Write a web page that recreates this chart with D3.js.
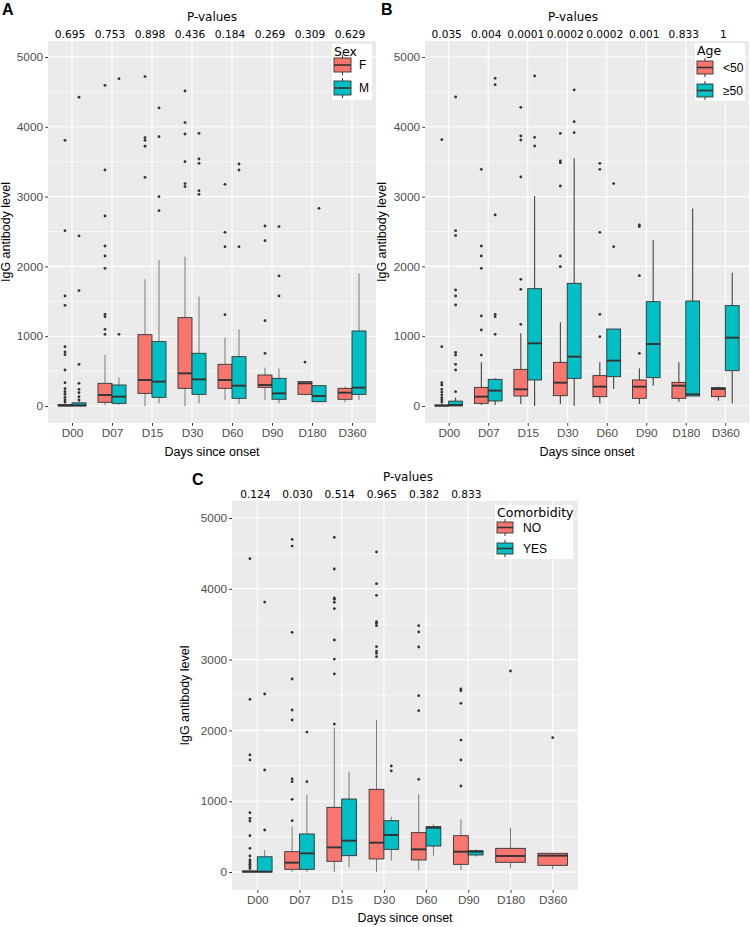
<!DOCTYPE html>
<html>
<head>
<meta charset="utf-8">
<script src="https://cdn.jsdelivr.net/npm/d3@7"></script>
<style>
  html, body { margin: 0; padding: 0; background: #fff; }
  svg { display: block; }
</style>
</head>
<body>
<svg id="chart" width="750" height="927"></svg>
<script>
// ---------------- DATA ----------------
const days = ["D00", "D07", "D15", "D30", "D60", "D90", "D180", "D360"];
const yTicks = [0, 1000, 2000, 3000, 4000, 5000];
const yMinor = [500, 1500, 2500, 3500, 4500];

const pvalsA = ["0.695", "0.753", "0.898", "0.436", "0.184", "0.269", "0.309", "0.629"];
const pvalsB = ["0.035", "0.004", "0.0001", "0.0002", "0.0002", "0.001", "0.833", "1"];
const pvalsC = ["0.124", "0.030", "0.514", "0.965", "0.382", "0.833"];

const groupsA = ["F", "M"];
const groupsB = ["<50", "≥50"];
const groupsC = ["NO", "YES"];

// box stats per day: [lower whisker, Q1, median, Q3, upper whisker]
const statsA_F = [[0, 0, 8, 20, 40], [10, 53, 158, 325, 731], [0, 181, 373, 1022, 1815], [0, 253, 468, 1266, 2140],
  [86, 253, 373, 597, 984], [86, 267, 301, 444, 549], [150, 167, 325, 349, 349], [53, 96, 191, 253, 277]];
const outA_F = [[57, 86, 124, 167, 205, 248, 334, 516, 735, 774, 850, 1442, 1576, 2512, 3806],
  [1027, 1098, 1280, 1313, 1972, 2149, 2292, 2722, 3381, 4594], [3276, 3721, 3806, 3845, 4719],
  [3143, 3186, 3501, 3897, 4060, 4513], [1309, 2283, 2488, 3176], [755, 1223, 2369, 2579], [630], []];
const statsA_M = [[0, 0, 10, 45, 100], [14, 38, 134, 301, 410], [38, 124, 349, 922, 2092], [38, 167, 382, 755, 1567],
  [29, 110, 291, 707, 1098], [38, 96, 181, 396, 540], [55, 62, 143, 291, 291], [86, 167, 263, 1075, 1901]];
const outA_M = [[86, 134, 191, 239, 325, 597, 1653, 2436, 4423], [1027, 4690], [2799, 2999, 3859, 4270],
  [3033, 3085, 3477, 3539, 3907], [2283, 3381, 3467], [1576, 1863, 2570], [2832], []];

const statsB_L = [[0, 0, 5, 15, 40], [14, 38, 134, 267, 626], [29, 143, 239, 525, 1041], [29, 148, 334, 626, 1199],
  [38, 134, 277, 435, 626], [29, 110, 277, 373, 540], [62, 110, 291, 339, 626], [76, 134, 244, 263, 277]];
const outB_L = [[60, 90, 120, 160, 200, 239, 301, 334, 850, 3816], [730, 1089, 1290, 1972, 2149, 2292, 3391],
  [1170, 1672, 1815, 3281, 3811, 3869, 4279], [1996, 2149, 3152, 3486, 3510, 3907],
  [993, 1313, 2488, 3391, 3477], [755, 1867, 2570, 2593], [], []];
const statsB_H = [[0, 0, 15, 70, 120], [14, 72, 220, 382, 396], [0, 373, 898, 1681, 3009], [0, 396, 707, 1758, 3549],
  [244, 420, 650, 1103, 1103], [291, 406, 888, 1495, 2378], [143, 143, 167, 1504, 2830], [38, 506, 979, 1438, 1910]];
const outB_H = [[205, 516, 597, 731, 769, 1447, 1576, 1662, 2441, 2512, 4427], [1027, 1280, 1313, 2737, 4604, 4695],
  [3725, 3849, 4728], [3916, 4074, 4528], [2283, 3186], [], [], []];

const statsC_N = [[0, 0, 5, 15, 35], [0, 38, 132, 287, 640], [0, 151, 348, 913, 2039], [0, 184, 414, 1168, 2147],
  [24, 170, 320, 556, 1097], [24, 108, 287, 513, 744], [52, 137, 226, 334, 626], [38, 94, 231, 264, 270]];
const outC_N = [[50, 80, 110, 140, 170, 226, 334, 513, 720, 758, 838, 1582, 1653, 2439, 4426],
  [725, 1026, 1276, 1314, 2147, 2288, 2726, 3385, 4604, 4698],
  [2090, 2797, 3008, 3277, 3719, 3809, 3851, 3870, 4280, 4727],
  [3041, 3088, 3120, 3183, 3479, 3512, 3535, 3908, 4072, 4520],
  [1309, 2279, 2491, 3178, 3390, 3479], [1215, 1582, 1864, 2382, 2561, 2585], [2839], [1897]];
const statsC_Y = [[0, 0, 5, 215, 310], [0, 38, 264, 537, 1088], [66, 231, 443, 1031, 1417], [160, 320, 523, 725, 782],
  [231, 367, 626, 640, 673], [217, 240, 287, 301, 320], null, null];
const outC_Y = [[593, 1441, 2514, 3813], [1276, 1977], [], [1427, 1497], [], [], [], []];

// ---------------- DRAW ----------------
const colors = ["#F8766D", "#00BFC4"];
const svg = d3.select("#chart");
const SANS = "'Liberation Sans', Arial, sans-serif";
const DEJA = "'DejaVu Sans', Verdana, sans-serif";

function drawPanel(cfg) {
  const g = svg.append("g");
  const x = d3.scalePoint().domain(days).range([cfg.left, cfg.right]).padding(0.6);
  const step = x.step();
  const y = d3.scaleLinear().domain([0, 5000]).range([cfg.y0, cfg.y5000]);

  g.append("rect").attr("x", cfg.left).attr("y", cfg.top)
    .attr("width", cfg.right - cfg.left).attr("height", cfg.bottom - cfg.top).attr("fill", "#EBEBEB");

  g.selectAll(".minor").data(yMinor).join("line")
    .attr("x1", cfg.left).attr("x2", cfg.right)
    .attr("y1", d => y(d)).attr("y2", d => y(d))
    .attr("stroke", "#fff").attr("stroke-width", 0.55);
  g.selectAll(".major").data(yTicks).join("line")
    .attr("x1", cfg.left).attr("x2", cfg.right)
    .attr("y1", d => y(d)).attr("y2", d => y(d))
    .attr("stroke", "#fff").attr("stroke-width", 1.1);
  g.selectAll(".vmajor").data(days).join("line")
    .attr("x1", d => x(d)).attr("x2", d => x(d))
    .attr("y1", cfg.top).attr("y2", cfg.bottom)
    .attr("stroke", "#fff").attr("stroke-width", 1.1);

  // boxes
  days.forEach((day, i) => {
    const present = cfg.stats.map(s => s[i] != null);
    const n = present.filter(Boolean).length;
    let k = 0;
    cfg.stats.forEach((s, gi) => {
      const st = s[i];
      if (!st) return;
      let cx, w;
      if (n === 2) { cx = x(day) + (k === 0 ? -0.175 : 0.175) * step; w = 0.35 * step; }
      else { cx = x(day); w = 0.7 * step; }
      k++;
      const [lo, q1, md, q3, hi] = st;
      g.append("line").attr("x1", cx).attr("x2", cx).attr("y1", y(lo)).attr("y2", y(q1))
        .attr("stroke", cfg.whisker).attr("stroke-width", 1);
      g.append("line").attr("x1", cx).attr("x2", cx).attr("y1", y(q3)).attr("y2", y(hi))
        .attr("stroke", cfg.whisker).attr("stroke-width", 1);
      g.append("rect").attr("x", cx - w / 2).attr("y", y(q3))
        .attr("width", w).attr("height", Math.max(0.5, y(q1) - y(q3)))
        .attr("fill", colors[gi]).attr("stroke", "#333").attr("stroke-width", 0.9);
      g.append("line").attr("x1", cx - w / 2).attr("x2", cx + w / 2).attr("y1", y(md)).attr("y2", y(md))
        .attr("stroke", "#333").attr("stroke-width", 1.9);
      g.selectAll(null).data(cfg.outs[gi][i]).join("circle")
        .attr("cx", cx).attr("cy", d => y(d)).attr("r", 1.4).attr("fill", "#333");
    });
  });

  // axes
  const ya = g.append("g").attr("transform", `translate(${cfg.left},0)`)
    .call(d3.axisLeft(y).tickValues(yTicks).tickSize(2.75).tickPadding(2.2).tickFormat(d3.format("d")));
  ya.select(".domain").remove();
  ya.selectAll(".tick line").attr("stroke", "#333").attr("stroke-width", 1);
  ya.selectAll(".tick text").attr("fill", "#4D4D4D").style("font-family", SANS).style("font-size", "11.8px");

  const xa = g.append("g").attr("transform", `translate(0,${cfg.bottom})`)
    .call(d3.axisBottom(x).tickSize(2.75).tickPadding(2.5));
  xa.select(".domain").remove();
  xa.selectAll(".tick line").attr("stroke", "#333").attr("stroke-width", 1);
  xa.selectAll(".tick text").attr("fill", "#4D4D4D").style("font-family", SANS).style("font-size", "11.8px");

  // titles
  g.append("text").attr("x", (cfg.left + cfg.right) / 2).attr("y", cfg.xTitleY)
    .attr("text-anchor", "middle").style("font-family", SANS).style("font-size", "12.5px").text("Days since onset");
  g.append("text").attr("transform", `translate(${cfg.yTitleX},${(cfg.top + cfg.bottom) / 2}) rotate(-90)`)
    .attr("text-anchor", "middle").style("font-family", SANS).style("font-size", "12.5px").text("IgG antibody level");

  // p-values
  g.append("text").attr("x", cfg.pTitleX).attr("y", cfg.pTitleY).attr("text-anchor", "middle")
    .style("font-family", DEJA).style("font-size", "12px").text("P-values");
  g.selectAll(".pv").data(cfg.pvals).join("text")
    .attr("x", (d, i) => x(days[i]) - 2).attr("y", cfg.pRowY).attr("text-anchor", "middle")
    .style("font-family", DEJA).style("font-size", "10.6px").text(d => d);

  // panel letter
  g.append("text").attr("x", cfg.letterX).attr("y", cfg.letterY)
    .style("font-family", SANS).style("font-weight", "bold").style("font-size", "16px").text(cfg.letter);

  // legend
  const L = cfg.legend;
  g.append("rect").attr("x", L.x).attr("y", L.y).attr("width", L.w).attr("height", L.h).attr("fill", "#fff");
  g.append("text").attr("x", L.x + 2).attr("y", L.titleY).style("font-family", DEJA)
    .style("font-size", "12.5px").text(L.title);
  cfg.groups.forEach((name, gi) => {
    const ky = L.keyY[gi];
    const kx = L.x + 2;
    g.append("line").attr("x1", kx + L.kw / 2).attr("x2", kx + L.kw / 2)
      .attr("y1", ky - 3).attr("y2", ky + L.kh + 3).attr("stroke", "#333").attr("stroke-width", 1);
    g.append("rect").attr("x", kx).attr("y", ky).attr("width", L.kw).attr("height", L.kh)
      .attr("fill", colors[gi]).attr("stroke", "#333").attr("stroke-width", 0.9);
    g.append("line").attr("x1", kx).attr("x2", kx + L.kw).attr("y1", ky + L.kh / 2).attr("y2", ky + L.kh / 2)
      .attr("stroke", "#333").attr("stroke-width", 1.6);
    g.append("text").attr("x", L.labelX).attr("y", ky + L.kh / 2 + 4.3)
      .style("font-family", SANS).style("font-size", "12px").text(name);
  });
}

drawPanel({
  left: 48, right: 376, top: 41, bottom: 423, y0: 406, y5000: 57,
  stats: [statsA_F, statsA_M], outs: [outA_F, outA_M], groups: groupsA, pvals: pvalsA,
  whisker: "#7a7a7a", xTitleY: 456, yTitleX: 10, pTitleX: 212, pTitleY: 21, pRowY: 38,
  letter: "A", letterX: 2, letterY: 15,
  legend: { x: 332, y: 44, w: 40, h: 56, title: "Sex", titleY: 56, keyY: [58, 81], kw: 17, kh: 14, labelX: 359 }
});
drawPanel({
  left: 425, right: 749, top: 41, bottom: 423, y0: 406, y5000: 57,
  stats: [statsB_L, statsB_H], outs: [outB_L, outB_H], groups: groupsB, pvals: pvalsB,
  whisker: "#333", xTitleY: 456, yTitleX: 386, pTitleX: 573, pTitleY: 21, pRowY: 38,
  letter: "B", letterX: 381, letterY: 15,
  legend: { x: 695, y: 43, w: 50, h: 58, title: "Age", titleY: 55, keyY: [61, 84], kw: 16, kh: 13, labelX: 723 }
});
drawPanel({
  left: 232, right: 578, top: 501, bottom: 890, y0: 872, y5000: 518,
  stats: [statsC_N, statsC_Y], outs: [outC_N, outC_Y], groups: groupsC, pvals: pvalsC,
  whisker: "#7a7a7a", xTitleY: 922, yTitleX: 189, pTitleX: 408, pTitleY: 481, pRowY: 498,
  letter: "C", letterX: 192, letterY: 485,
  legend: { x: 495, y: 505, w: 78, h: 54, title: "Comorbidity", titleY: 517, keyY: [522, 543], kw: 16, kh: 11, labelX: 523 }
});
</script>
</body>
</html>
